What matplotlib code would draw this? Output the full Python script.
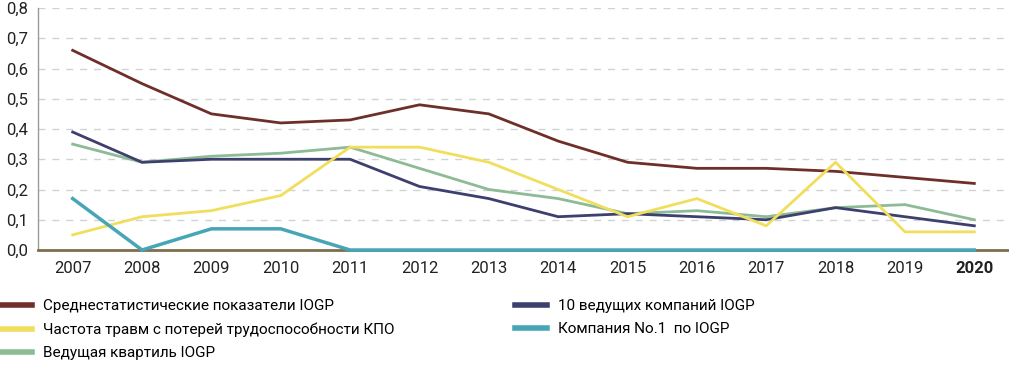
import matplotlib; matplotlib.use('Agg')
import matplotlib.pyplot as plt
from matplotlib.lines import Line2D

plt.rcParams['font.family'] = ['Roboto', 'DejaVu Sans']

years = list(range(2007, 2021))
avg_iogp = [0.66, 0.55, 0.45, 0.42, 0.43, 0.48, 0.45, 0.36, 0.29, 0.27, 0.27, 0.26, 0.24, 0.22]
top10_iogp = [0.39, 0.29, 0.30, 0.30, 0.30, 0.21, 0.17, 0.11, 0.12, 0.11, 0.10, 0.14, 0.11, 0.08]
kpo_ltif = [0.05, 0.11, 0.13, 0.18, 0.34, 0.34, 0.29, 0.20, 0.11, 0.17, 0.08, 0.29, 0.06, 0.06]
no1_iogp = [0.17, 0.00, 0.07, 0.07, 0.00, 0.00, 0.00, 0.00, 0.00, 0.00, 0.00, 0.00, 0.00, 0.00]
quart_iogp = [0.35, 0.29, 0.31, 0.32, 0.34, 0.27, 0.20, 0.17, 0.12, 0.13, 0.11, 0.14, 0.15, 0.10]
yticks = [0.0, 0.1, 0.2, 0.3, 0.4, 0.5, 0.6, 0.7, 0.8]

C_AVG = '#6e2f2a'; C_TOP = '#3d3f6e'; C_KPO = '#f1de5c'; C_NO1 = '#47a6b6'; C_Q = '#8dbb96'

W, H = 1009, 383
fig = plt.figure(figsize=(W/100, H/100), dpi=100)
ax = fig.add_axes([38/W, 1-250/H, 1-38/W, 242/H])

lw = 2.0
ax.plot(years, avg_iogp, color=C_AVG, lw=lw, zorder=5)
ax.plot(years, quart_iogp, color=C_Q, lw=lw, zorder=3)
ax.plot(years, top10_iogp, color=C_TOP, lw=lw, zorder=4)
ax.plot(years, kpo_ltif, color=C_KPO, lw=lw, zorder=6)
ax.plot(years, no1_iogp, color=C_NO1, lw=lw + 0.5, zorder=7, clip_on=False)

ax.set_xlim(2006.5, 2020.5)
ax.set_ylim(0, 0.8)
ax.set_yticks(yticks)
ax.set_yticklabels([f'{v:.1f}'.replace('.', ',') for v in yticks])
ax.set_xticks(years)
ax.set_xticklabels([str(y) for y in years])
ax.get_xticklabels()[-1].set_fontweight('bold')
ax.tick_params(length=0, labelsize=12, colors='#222222')
ax.tick_params(axis='y', pad=7)
ax.tick_params(axis='x', pad=8)

ax.yaxis.grid(True, color='#cfd3d6', ls=(0, (5, 5)), lw=1.0)
ax.set_axisbelow(True)
for s in ('top', 'right'):
    ax.spines[s].set_visible(False)
ax.spines['left'].set_color('#9a9a9a')
ax.spines['left'].set_linewidth(1.0)
ax.spines['bottom'].set_color('#7d6f4c')
ax.spines['bottom'].set_linewidth(2.0)

def h(c):
    return Line2D([], [], color=c, lw=4)

kw = dict(frameon=False, fontsize=11, handlelength=2.1, handletextpad=0.7,
          labelspacing=0.62, borderaxespad=0, borderpad=0, loc='upper left')
fig.legend([h(C_AVG), h(C_KPO), h(C_Q)],
           ['Среднестатистические показатели IOGP',
            'Частота травм с потерей трудоспособности КПО',
            'Ведущая квартиль IOGP'],
           bbox_to_anchor=(0/W, 1-299/H), **kw)
fig.legend([h(C_TOP), h(C_NO1)],
           ['10 ведущих компаний IOGP', 'Компания No.1  по IOGP'],
           bbox_to_anchor=(515/W, 1-299/H), **kw)

fig.savefig('out.png', dpi=100, facecolor='white')
